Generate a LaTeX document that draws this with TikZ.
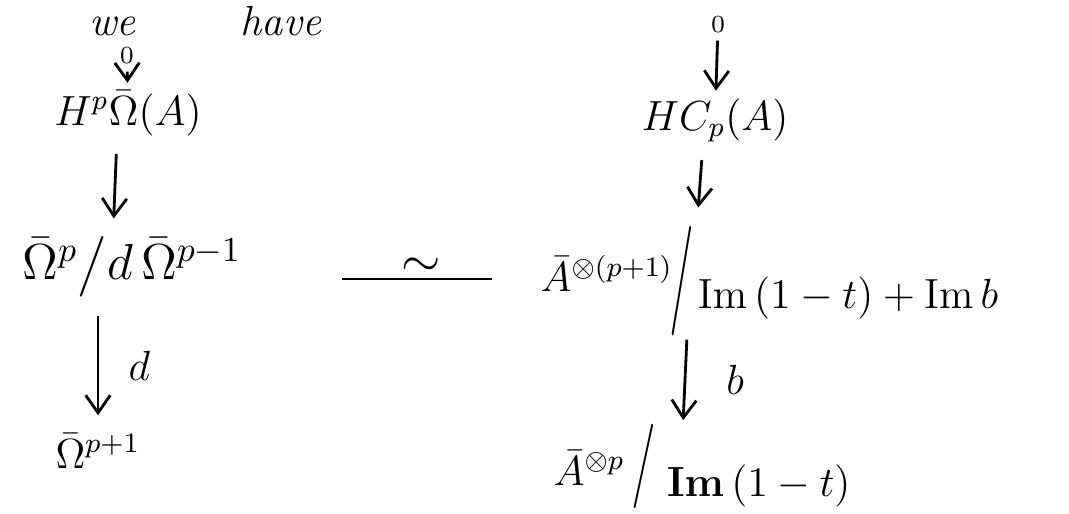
\documentclass[tikz,border=0pt]{standalone}
\usepackage{amsmath}
\usetikzlibrary{arrows.meta,calc}
\newcommand{\tallslash}[2]{\raisebox{#1}{\scalebox{1.2}[#2]{$/$}}}

\begin{document}
\begin{tikzpicture}[>={Straight Barb[length=5pt,width=7pt]}]
    \useasboundingbox (0,0) rectangle (10.69,5.13);
    \tikzset{
        term/.style={inner sep=0pt, font=\large},
        zero/.style={inner sep=1pt, font=\scriptsize},
        map/.style={->, thick, shorten <=5pt, shorten >=5pt},
    }

    % Left column
    \node[font=\large\itshape] (wehave) at (2.05,4.92) {we \hspace{1.8em} have};
    \node[zero] (zeroL) at (1.27,4.57) {$0$};
    \node[term, anchor=base] (hpL) at (1.28,3.88) {$H^p\bar\Omega(A)$};
    \node[term, font=\Large] (quotL) at (1.32,2.46) {$\bar\Omega^p\big/ d\,\bar\Omega^{p-1}$};
    \node[term, anchor=base] (omegaL) at (0.98,0.45) {$\bar\Omega^{p+1}$};

    \draw[map, shorten <=1pt, shorten >=2pt] (zeroL) -- (hpL);
    \draw[map] ([xshift=-0.11cm]hpL.south) -- ([xshift=-0.19cm]quotL.north);
    \draw[map] (quotL.south -| omegaL.north) -- (omegaL.north)
        node[midway, right=5pt, font=\large] {$d$};

    % Right column
    \node[zero] (zeroR) at (7.18,4.88) {$0$};
    \node[term, anchor=base] (hcR) at (7.15,3.83) {$HC_p(A)$};
    \node[term, anchor=base west] (quotR) at (5.40,2.05)
        {$\raisebox{0.9ex}{$\bar A^{\otimes(p+1)}$}\hspace{-1pt}\tallslash{0em}{2.6}\hspace{1pt}\mathrm{Im}\,(1-t)+\mathrm{Im}\,b$};
    \node[term, anchor=base west] (barR) at (5.53,0.17)
        {$\raisebox{0.6ex}{$\bar A^{\otimes p}$}\hspace{2pt}\tallslash{0.2em}{2}\hspace{3pt}\mathbf{Im}\,(1-t)$};

    \draw[map, shorten <=1pt, shorten >=2pt] (zeroR) -- (hcR);
    \draw[map] ([xshift=-0.12cm]hcR.south) -- ([xshift=1.57cm]quotR.north west);
    \draw[map, shorten <=1pt, shorten >=1pt] ([xshift=1.47cm]quotR.south west) -- ([xshift=1.30cm]barR.north west)
        node[midway, right=8pt, font=\large] {$b$};

    % Isomorphism
    \draw[thick, shorten <=1.0cm, shorten >=0.48cm]
        ([yshift=-0.12cm]quotL.east) -- ([yshift=-0.12cm]quotL.east -| quotR.west)
        node[pos=0.6, above=-3pt, font=\Large] {$\sim$};

\end{tikzpicture}
\end{document}
